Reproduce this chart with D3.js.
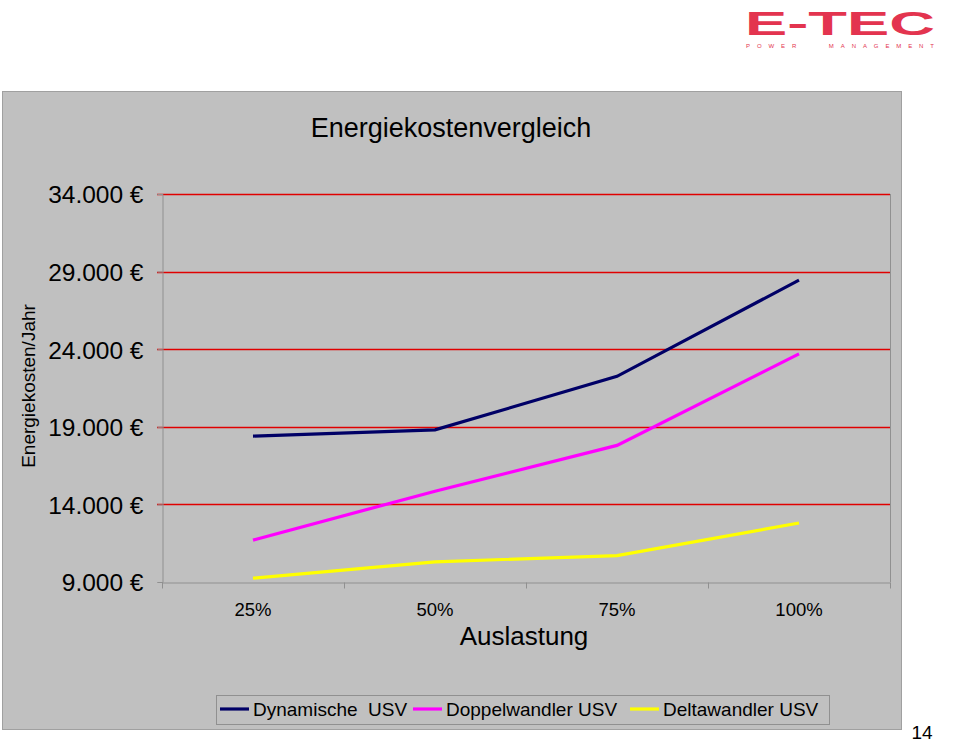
<!DOCTYPE html>
<html><head><meta charset="utf-8">
<script src="https://cdn.jsdelivr.net/npm/d3@7"></script>
<style>body{margin:0;background:#fff;}svg{display:block;}text{white-space:pre;}</style>
</head><body>
<svg id="c" width="960" height="743"></svg>
<script>
const categories = ["25%", "50%", "75%", "100%"];
const seriesNames = ["Dynamische  USV", "Doppelwandler USV", "Deltawandler USV"];
const dynamische = [18400, 18800, 22250, 28450];
const doppelwandler = [11700, 14850, 17800, 23700];
const deltawandler = [9250, 10300, 10700, 12800];
const yTicks = [9000, 14000, 19000, 24000, 29000, 34000];
const colors = ["#000066", "#ff00ff", "#ffff00"];
const series = [dynamische, doppelwandler, deltawandler];

const svg = d3.select("#c");
const font = "Liberation Sans, Arial, sans-serif";

// logo
const logo = svg.append("g");
logo.append("text").attr("x", 840).attr("y", 35).attr("text-anchor", "middle")
  .attr("font-family", font).attr("font-weight", "bold").attr("font-size", 30)
  .attr("fill", "#e3344f").attr("textLength", 190).attr("lengthAdjust", "spacingAndGlyphs")
  .attr("transform", "translate(0,-3.5) scale(1,1.1)").text("E-TEC");
logo.append("text").attr("x", 840).attr("y", 48).attr("text-anchor", "middle")
  .attr("font-family", font).attr("font-size", 6).attr("fill", "#e3344f")
  .attr("textLength", 188).attr("lengthAdjust", "spacing").text("POWER   MANAGEMENT");

// panel
svg.append("rect").attr("x", 2.5).attr("y", 91.5).attr("width", 899).attr("height", 638)
  .attr("fill", "#c0c0c0").attr("stroke", "#a0a0a0");

const m = {left: 162, right: 890, top: 194, bottom: 582};
const x = d3.scaleBand().domain(categories).range([m.left, m.right]);
const y = d3.scaleLinear().domain([9000, 34000]).range([m.bottom, m.top]);

// title
svg.append("text").attr("x", 451).attr("y", 137).attr("text-anchor", "middle")
  .attr("font-family", font).attr("font-size", 27).attr("fill", "#000").text("Energiekostenvergleich");

// plot border right
svg.append("line").attr("x1", m.right + 0.5).attr("x2", m.right + 0.5).attr("y1", m.top).attr("y2", m.bottom)
  .attr("stroke", "#909090");

// gridlines
svg.append("g").selectAll("line").data(yTicks.filter(d => d > 9000)).join("line")
  .attr("x1", m.left - 5).attr("x2", m.right).attr("y1", d => Math.round(y(d)) + 0.5).attr("y2", d => Math.round(y(d)) + 0.5)
  .attr("stroke", "#e00000").attr("stroke-width", 1.3);

// y axis
const yAxis = svg.append("g").attr("transform", `translate(${m.left + 0.5},0)`)
  .call(d3.axisLeft(y).tickValues(yTicks).tickSize(5).tickPadding(14)
    .tickFormat(d => d3.format(",")(d).replace(/,/g, ".") + " €"));
yAxis.select(".domain").attr("stroke", "#909090");
yAxis.selectAll(".tick line").attr("stroke", "#909090");
yAxis.selectAll("text").attr("font-family", font).attr("font-size", 24.5).attr("fill", "#000").attr("dy", "0.36em");

// x axis
const xAxis = svg.append("g").attr("transform", `translate(0,${m.bottom + 0.5})`)
  .call(d3.axisBottom(x).tickSize(0).tickPadding(20));
xAxis.select(".domain").attr("stroke", "#909090");
xAxis.selectAll("text").attr("font-family", font).attr("font-size", 18.5).attr("fill", "#000");
const bounds = categories.map(c => x(c)).concat([x(categories[categories.length - 1]) + x.bandwidth()]);
xAxis.append("g").selectAll("line").data(bounds).join("line")
  .attr("x1", d => Math.round(d) + 0.5).attr("x2", d => Math.round(d) + 0.5).attr("y1", 0).attr("y2", 6)
  .attr("stroke", "#909090");

// axis titles
svg.append("text").attr("x", 524).attr("y", 645).attr("text-anchor", "middle")
  .attr("font-family", font).attr("font-size", 26).attr("fill", "#000").text("Auslastung");
svg.append("text").attr("transform", "translate(35,386) rotate(-90)").attr("text-anchor", "middle")
  .attr("font-family", font).attr("font-size", 19).attr("fill", "#000").text("Energiekosten/Jahr");

// lines
const line = d3.line().x((d, i) => x(categories[i]) + x.bandwidth() / 2).y(d => y(d));
svg.append("g").selectAll("path").data(series).join("path")
  .attr("d", d => line(d)).attr("fill", "none")
  .attr("stroke", (d, i) => colors[i]).attr("stroke-width", 3.2).attr("stroke-linejoin", "miter");

// legend
const lg = svg.append("g");
lg.append("rect").attr("x", 216.5).attr("y", 695.5).attr("width", 613).attr("height", 29)
  .attr("fill", "#c0c0c0").attr("stroke", "#909090");
const lx = [220, 413, 630];
seriesNames.forEach((n, i) => {
  lg.append("line").attr("x1", lx[i]).attr("x2", lx[i] + 29).attr("y1", 709).attr("y2", 709)
    .attr("stroke", colors[i]).attr("stroke-width", 3.2);
  lg.append("text").attr("x", lx[i] + 33).attr("y", 716).attr("font-family", font).attr("font-size", 19)
    .attr("fill", "#000").text(n);
});

// page number
svg.append("text").attr("x", 922).attr("y", 739).attr("text-anchor", "middle")
  .attr("font-family", font).attr("font-size", 19).attr("fill", "#000").text("14");
</script>
</body></html>
